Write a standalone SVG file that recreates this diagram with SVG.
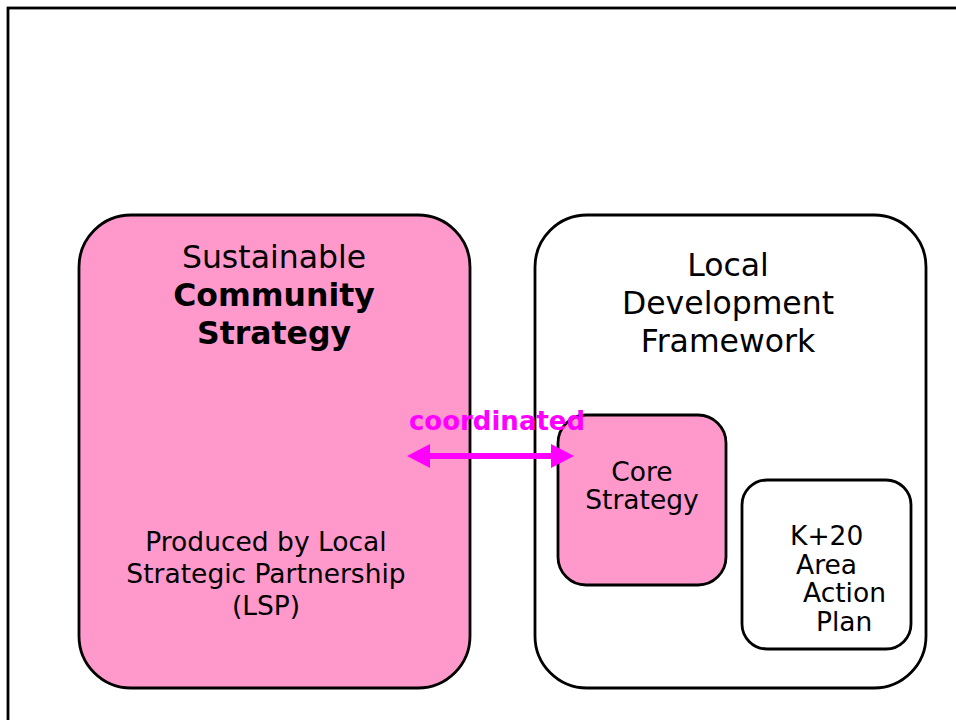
<svg xmlns="http://www.w3.org/2000/svg" width="956" height="720" viewBox="0 0 956 720">
<style>
.box{stroke:#000;stroke-width:2.8}
.pink{fill:#FF99CC}
.white{fill:#fff}
text{font-family:"DejaVu Sans",Verdana,sans-serif;fill:#000}
.big{font-size:31.5px}
.mid{font-size:26.5px}
.b{font-weight:bold}
.mag{fill:#FF00FF;font-weight:bold;font-size:26px}
</style>
<rect width="956" height="720" fill="#fff"/>
<rect x="8" y="8" width="960" height="730" fill="none" stroke="#000" stroke-width="2.8"/>
<g id="scs">
<rect class="box pink" x="79" y="215" width="391" height="473" rx="52"/>
<text class="big" x="274" y="268" text-anchor="middle">Sustainable</text>
<text class="big b" x="274" y="306" text-anchor="middle">Community</text>
<text class="big b" x="274" y="344" text-anchor="middle">Strategy</text>
<text class="mid" x="266" y="551" text-anchor="middle">Produced by Local</text>
<text class="mid" x="266" y="583" text-anchor="middle">Strategic Partnership</text>
<text class="mid" x="266" y="615" text-anchor="middle">(LSP)</text>
</g>
<g id="ldf">
<rect class="box white" x="535" y="215" width="391" height="473" rx="52"/>
<text class="big" x="728" y="276" text-anchor="middle">Local</text>
<text class="big" x="728" y="314" text-anchor="middle">Development</text>
<text class="big" x="728" y="352" text-anchor="middle">Framework</text>
</g>
<g id="core">
<rect class="box pink" x="558" y="415" width="168" height="170" rx="28"/>
<text class="mid" x="642" y="481" text-anchor="middle">Core</text>
<text class="mid" x="642" y="509" text-anchor="middle">Strategy</text>
</g>
<g id="aap">
<rect class="box white" x="742" y="480" width="169" height="169" rx="25"/>
<text class="mid" x="790" y="545">K+20</text>
<text class="mid" x="796" y="574">Area</text>
<text class="mid" x="803" y="602">Action</text>
<text class="mid" x="816" y="631">Plan</text>
</g>
<g id="connectors">
<text class="mag" x="497" y="430" text-anchor="middle">coordinated</text>
<polygon fill="#FF00FF" points="407,456 430,444 430,453 551,453 551,444 574,456 551,468 551,459 430,459 430,468"/>
</g>
</svg>
